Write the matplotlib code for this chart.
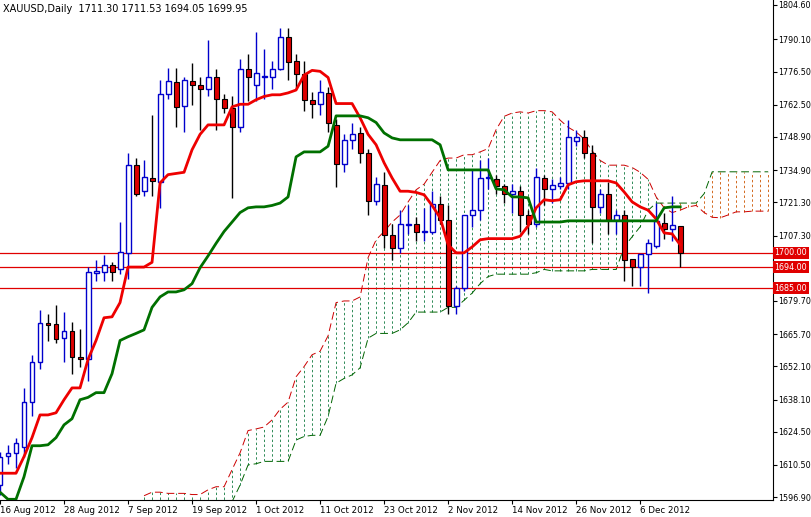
import numpy as np
import matplotlib
matplotlib.use("Agg")
import matplotlib.pyplot as plt

# daily OHLC, bar 0 = 16 Aug 2012
opens = [1602, 1614.3, 1615.6, 1618, 1637, 1654, 1670.5, 1670, 1664, 1667, 1656, 1655, 1691.6, 1692, 1695, 1693,
         1700, 1737, 1726, 1731.6, 1730, 1767, 1772, 1762, 1772.6, 1771, 1769, 1774, 1765, 1761, 1753, 1777.6,
         1771, 1774.4, 1774, 1777.4, 1791, 1781, 1775.5, 1764.6, 1763, 1767.5, 1754, 1737.6, 1747.7, 1750.6, 1742, 1722,
         1728.7, 1707.6, 1702, 1711.8, 1712, 1708.8, 1709, 1720.7, 1714, 1677.6, 1685, 1716, 1718, 1731.4, 1731, 1728,
         1725, 1726, 1716, 1712, 1731.6, 1727, 1728, 1729.5, 1747, 1749, 1742, 1719.4, 1725, 1714, 1716, 1697.5,
         1694, 1699.6, 1703, 1712.7, 1710, 1711.30]
highs = [1616, 1619, 1622, 1643, 1657, 1676, 1674, 1678, 1675, 1671, 1668, 1694, 1697, 1699, 1696, 1713,
         1742, 1740, 1739, 1758, 1773, 1778, 1778, 1774, 1780, 1774, 1790, 1777.6, 1767, 1766, 1782, 1784,
         1793, 1786, 1781, 1795, 1795, 1784, 1781, 1768, 1773, 1770, 1756.5, 1750, 1755, 1753, 1744, 1732,
         1734, 1712, 1718, 1720, 1715, 1719, 1726, 1724, 1720, 1686, 1716, 1735, 1739, 1740, 1733, 1729,
         1729, 1728, 1718, 1736, 1733, 1731, 1732, 1756, 1752, 1752, 1745.5, 1727, 1730, 1718, 1718, 1697.5,
         1699.6, 1706, 1721, 1717, 1724, 1711.53]
lows = [1598, 1611, 1609, 1614, 1631, 1651, 1662.6, 1662, 1654, 1649, 1652, 1646, 1688, 1688, 1688, 1691,
        1689, 1724, 1724, 1724, 1719, 1765, 1753, 1751, 1762.5, 1752, 1766, 1752, 1759, 1723, 1751, 1764,
        1764, 1765, 1769, 1777, 1773, 1769, 1760, 1757, 1758, 1751, 1727.6, 1734, 1744, 1738, 1716, 1720,
        1702, 1697, 1700, 1708, 1705, 1705, 1708, 1712, 1674, 1674, 1684, 1711, 1714, 1727, 1725, 1721,
        1717, 1709, 1708, 1711, 1720, 1721, 1727, 1727, 1745, 1740, 1704, 1717, 1708, 1708, 1688, 1686,
        1686, 1683, 1702, 1706, 1705, 1694.05]
closes = [1614, 1615.6, 1619.8, 1637, 1654, 1670.5, 1669.6, 1663.7, 1667, 1656, 1655.3, 1692, 1692.4, 1695, 1692, 1700.4,
          1737, 1725, 1732, 1730.4, 1767, 1772.6, 1761.6, 1773, 1771, 1769, 1774, 1765, 1761, 1753, 1777.6, 1774,
          1776, 1774.8, 1777.4, 1791, 1780.6, 1775.5, 1764.6, 1763, 1768, 1755, 1737.6, 1747.7, 1750, 1742, 1722, 1729,
          1707.6, 1702, 1712, 1712.2, 1709, 1709.2, 1720.7, 1714, 1677.6, 1685, 1716, 1718, 1731.6, 1731.8, 1728, 1725,
          1726, 1716, 1712, 1732, 1727, 1728.7, 1729.5, 1749, 1749, 1742, 1719.4, 1725, 1714, 1716, 1697, 1694,
          1699.6, 1704, 1713.5, 1710, 1711.8, 1699.95]

tenkan = [1607, 1607, 1607, 1614, 1622, 1631.6, 1631.6, 1632.5, 1638, 1643, 1643, 1655, 1663, 1672.6, 1673, 1679,
          1694, 1694, 1694, 1696, 1729.5, 1733, 1733.5, 1734, 1743.5, 1750, 1754, 1754, 1754, 1761.6, 1762.7, 1762.7,
          1764.6, 1766, 1766.7, 1766.7, 1767.5, 1768.7, 1775, 1777, 1776.6, 1774, 1763, 1763, 1763, 1757, 1750, 1745.6,
          1738, 1731.6, 1726, 1726, 1725.5, 1724.5, 1720, 1714.8, 1703.4, 1700, 1700, 1702.5, 1705.5, 1706, 1706, 1706,
          1706, 1707, 1711.4, 1719, 1722.4, 1722, 1722.4, 1728.7, 1730, 1730.4, 1730.4, 1730.4, 1730.4, 1729.5, 1725.7, 1721.5,
          1719.4, 1718, 1714.3, 1708.4, 1708, 1703.4]
kijun = [1599, 1596, 1596, 1605.5, 1618.6, 1618.6, 1619, 1622, 1627.4, 1630, 1638, 1639, 1641, 1641, 1649, 1663,
         1664.6, 1666, 1667.5, 1677, 1681.4, 1683.5, 1683.5, 1684.4, 1687, 1693.7, 1698.7, 1704, 1709, 1713, 1717, 1719,
         1719.4, 1719.4, 1720, 1721, 1723.6, 1740.5, 1742.6, 1742.6, 1742.6, 1745, 1757.8, 1757.8, 1757.8, 1757.8, 1757, 1755,
         1750.6, 1748.5, 1747.7, 1747.7, 1747.7, 1747.7, 1747.7, 1745.6, 1735, 1735, 1735, 1735, 1735, 1735, 1727, 1726.6,
         1723.6, 1723.6, 1723.2, 1713, 1713, 1713, 1713, 1713.5, 1713.5, 1713.5, 1713.5, 1713.5, 1713.5, 1713.5, 1713.5, 1713.5,
         1713.5, 1713.5, 1713.5, 1719, 1719.4, 1719.4]

# cloud, starting at bar 18 and running 26 bars past the last candle
span_start = 18
span_a = [1597.5, 1599, 1599, 1598.5, 1598.5, 1598.5, 1598, 1598, 1600, 1601.3, 1601.3, 1608.5, 1615.6, 1625, 1625.7, 1626.5,
          1629.5, 1634, 1637, 1647.7, 1652, 1657, 1658.5, 1665, 1679, 1679.7, 1679.7, 1681.4, 1698, 1705.5, 1709, 1713,
          1716, 1721.5, 1726.6, 1729, 1734, 1739, 1740, 1740, 1741.4, 1741.4, 1742.6, 1744, 1752, 1757.6, 1759, 1759.5,
          1759, 1760, 1760, 1759.5, 1756, 1753, 1751, 1748, 1743, 1739, 1737, 1737, 1737, 1736, 1734, 1731,
          1723.6, 1719, 1717, 1718, 1719.4, 1720, 1717, 1715, 1714.8, 1716, 1717.3, 1717.3, 1717.6, 1717.6, 1717.6]
span_b = [1590] * 11 + [1595, 1602, 1610.5, 1611, 1612, 1612, 1612, 1612, 1621, 1622.5, 1623, 1623, 1631, 1645, 1647,
          1648.5, 1651.5, 1664, 1666, 1666, 1666, 1667.5, 1670.5, 1675, 1675, 1675, 1675, 1677, 1677, 1680, 1683,
          1687, 1690, 1691, 1691, 1691, 1691, 1691, 1691.6, 1693, 1692.4, 1692.4, 1692.4, 1692.4, 1692.4, 1693, 1693,
          1693, 1693, 1702.5, 1706.8, 1711, 1718, 1721, 1721, 1721, 1721, 1721, 1721, 1725, 1734.2] + [1734.2] * 7

levels = [1700.0, 1694.0, 1685.0]
yticks = [1804.60, 1790.10, 1776.50, 1762.50, 1748.90, 1734.90, 1721.30, 1707.30,
          1679.70, 1665.70, 1652.10, 1638.10, 1624.50, 1610.50, 1596.90]
date_labels = ["16 Aug 2012", "28 Aug 2012", "7 Sep 2012", "19 Sep 2012", "1 Oct 2012", "11 Oct 2012",
               "23 Oct 2012", "2 Nov 2012", "14 Nov 2012", "26 Nov 2012", "6 Dec 2012"]

fig = plt.figure(figsize=(8.12, 5.17), dpi=100)
ax = fig.add_axes([0, 17 / 517, 773 / 812, 500 / 517])
ax.set_xlim(0, 96.6)
ax.set_ylim(1595.7, 1806.7)

# cloud
sx = np.arange(span_start, span_start + len(span_a))
sa = np.array(span_a)
sb = np.array(span_b)
for x, a, b in zip(sx, sa, sb):
    col = '#2e8b57' if a >= b else '#d2691e'
    ax.vlines(x, min(a, b), max(a, b), colors=col, linestyles=(0, (2.5, 2.5)), linewidth=0.7, zorder=1)
ax.plot(sx, sa, color='#cc0000', lw=0.7, ls=(0, (8, 4)), zorder=2)
ax.plot(sx, sb, color='#006400', lw=0.7, ls=(0, (8, 4)), zorder=2)

for lv in levels:
    ax.axhline(lv, color='#e00000', lw=0.9, zorder=2)

# candles
idx = np.arange(len(opens))
o = np.array(opens); h = np.array(highs); l = np.array(lows); c = np.array(closes)
up = c >= o
ax.vlines(idx[up], l[up], h[up], color='#0000cc', lw=1, zorder=3)
ax.vlines(idx[~up], l[~up], h[~up], color='black', lw=1, zorder=3)
ax.bar(idx[up], np.maximum(c[up] - o[up], 0.3), bottom=o[up], width=0.62,
       color='white', edgecolor='#0000cc', lw=1, zorder=4)
ax.bar(idx[~up], np.maximum(o[~up] - c[~up], 0.3), bottom=c[~up], width=0.62,
       color='#dd0000', edgecolor='black', lw=0.8, zorder=4)

ax.plot(idx, tenkan, color='#ee0000', lw=2, zorder=5)
ax.plot(idx, kijun, color='#007000', lw=2, zorder=5)

# axes styling
for s in ['top', 'left']:
    ax.spines[s].set_visible(False)
ax.yaxis.tick_right()
ax.set_yticks(yticks)
ax.set_yticklabels(['%.2f' % v for v in yticks], fontsize=5.8)
ax.tick_params(axis='y', length=3, pad=1)
ax.set_xticks(np.arange(0, 8 * len(date_labels), 8))
ax.set_xticklabels(date_labels, fontsize=6.3, ha='left')
ax.tick_params(axis='x', length=3, pad=1)

for lv in levels:
    ax.text(1.002, lv, '%.2f' % lv, transform=ax.get_yaxis_transform(), va='center', ha='left',
            fontsize=5.8, color='white',
            bbox=dict(boxstyle='square,pad=0.2', fc='#e00000', ec='none'))

fig.text(3 / 812, 1 - 9 / 517, "XAUUSD,Daily  1711.30 1711.53 1694.05 1699.95", fontsize=7, va='center')

fig.savefig('out.png', dpi=100)
